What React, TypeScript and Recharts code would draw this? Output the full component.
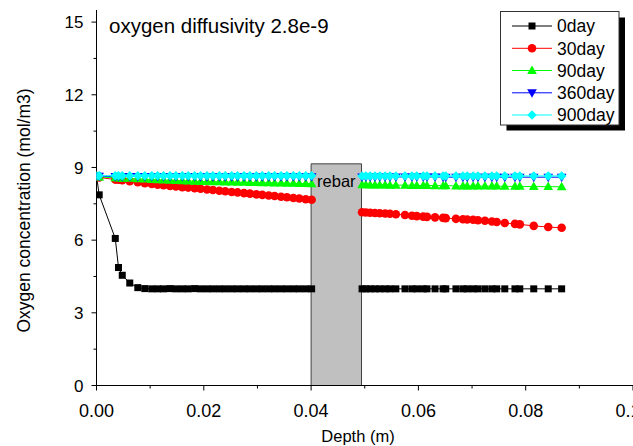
import React from 'react';
import { LineChart, Line, XAxis, YAxis, ReferenceArea } from 'recharts';

// Depth (m) nodes left of the rebar and right of the rebar
const depthLeft = [0, 0.0005, 0.0035, 0.0041, 0.0048, 0.0062, 0.0077, 0.009, 0.0103, 0.0114, 0.0125, 0.0137, 0.0148, 0.016, 0.0171, 0.0183, 0.0194, 0.0206, 0.0217, 0.0229, 0.024, 0.0252, 0.0263, 0.0275, 0.0286, 0.0298, 0.0309, 0.0321, 0.0332, 0.0344, 0.0355, 0.0367, 0.0378, 0.039, 0.0401];
const depthGap = 0.0447;
const depthRight = [0.0495, 0.0502, 0.051, 0.0519, 0.0528, 0.0538, 0.0547, 0.0558, 0.0575, 0.0588, 0.0597, 0.0609, 0.0616, 0.0631, 0.0646, 0.0651, 0.067, 0.0683, 0.0691, 0.0702, 0.0711, 0.0724, 0.0737, 0.0746, 0.0761, 0.078, 0.0789, 0.0815, 0.0842, 0.0867];

const day0Left = [8.65, 7.87, 6.07, 4.87, 4.55, 4.23, 4.04, 4.0, 3.99, 3.99, 3.99, 4.0, 3.99, 3.99, 3.99, 4.0, 3.99, 3.99, 3.99, 3.99, 3.99, 3.99, 3.99, 3.99, 3.99, 3.99, 3.99, 3.99, 3.99, 3.99, 3.99, 3.99, 3.99, 3.99, 3.99];
const day0Right = [3.99, 3.99, 3.99, 3.99, 3.99, 3.99, 3.99, 3.99, 3.99, 3.99, 3.99, 3.99, 3.99, 3.99, 3.99, 3.99, 3.99, 3.99, 3.99, 3.99, 3.99, 3.99, 3.99, 3.99, 3.99, 3.99, 3.99, 3.99, 3.99, 3.99];

const day30Left = [8.65, 8.59, 8.5, 8.49, 8.47, 8.43, 8.39, 8.35, 8.32, 8.29, 8.27, 8.24, 8.22, 8.19, 8.17, 8.14, 8.12, 8.09, 8.07, 8.04, 8.02, 7.99, 7.97, 7.94, 7.92, 7.89, 7.87, 7.84, 7.82, 7.79, 7.77, 7.74, 7.72, 7.69, 7.67];
const day30Right = [7.15, 7.14, 7.13, 7.12, 7.11, 7.1, 7.09, 7.07, 7.04, 7.01, 6.99, 6.97, 6.96, 6.94, 6.92, 6.91, 6.88, 6.86, 6.85, 6.84, 6.82, 6.8, 6.77, 6.75, 6.71, 6.67, 6.65, 6.59, 6.54, 6.51];

const day90Left = [8.65, 8.6, 8.58, 8.57, 8.56, 8.55, 8.53, 8.52, 8.5, 8.49, 8.48, 8.47, 8.46, 8.45, 8.44, 8.43, 8.42, 8.42, 8.41, 8.41, 8.4, 8.4, 8.39, 8.39, 8.38, 8.38, 8.37, 8.37, 8.36, 8.36, 8.35, 8.35, 8.34, 8.34, 8.33];
const day90Right = [8.29, 8.29, 8.28, 8.28, 8.28, 8.28, 8.27, 8.27, 8.27, 8.26, 8.26, 8.26, 8.26, 8.25, 8.25, 8.25, 8.24, 8.24, 8.24, 8.24, 8.23, 8.23, 8.23, 8.23, 8.22, 8.22, 8.22, 8.21, 8.21, 8.2];

const day360Left = [8.65, 8.64, 8.63, 8.63, 8.63, 8.63, 8.63, 8.63, 8.63, 8.63, 8.63, 8.63, 8.63, 8.63, 8.63, 8.63, 8.62, 8.62, 8.62, 8.62, 8.62, 8.62, 8.62, 8.62, 8.62, 8.62, 8.62, 8.62, 8.62, 8.62, 8.62, 8.62, 8.62, 8.62, 8.62];
const day360Right = [8.61, 8.61, 8.61, 8.61, 8.61, 8.61, 8.61, 8.61, 8.61, 8.61, 8.61, 8.61, 8.61, 8.61, 8.6, 8.6, 8.6, 8.6, 8.6, 8.6, 8.6, 8.6, 8.6, 8.6, 8.6, 8.6, 8.6, 8.6, 8.6, 8.6];

const day900Left = [8.66, 8.66, 8.66, 8.66, 8.66, 8.66, 8.66, 8.66, 8.66, 8.66, 8.66, 8.66, 8.66, 8.66, 8.66, 8.66, 8.66, 8.66, 8.66, 8.66, 8.66, 8.66, 8.66, 8.66, 8.66, 8.66, 8.66, 8.66, 8.66, 8.66, 8.66, 8.66, 8.66, 8.66, 8.66];
const day900Right = [8.65, 8.65, 8.65, 8.65, 8.65, 8.65, 8.65, 8.65, 8.65, 8.65, 8.65, 8.65, 8.65, 8.65, 8.65, 8.65, 8.65, 8.65, 8.65, 8.65, 8.65, 8.65, 8.65, 8.65, 8.65, 8.65, 8.65, 8.65, 8.65, 8.65];

const seriesKeys = ['day0', 'day30', 'day90', 'day360', 'day900'];
const seriesNames = ['0day', '30day', '90day', '360day', '900day'];
const seriesColors = ['#000000', '#ff0000', '#00ff00', '#0000ff', '#00ffff'];
const seriesShapes = ['square', 'circle', 'triUp', 'triDown', 'diamond'];

const xTicks = [0, 0.01, 0.02, 0.03, 0.04, 0.05, 0.06, 0.07, 0.08, 0.09, 0.1];
const yTicks = [0, 1.5, 3, 4.5, 6, 7.5, 9, 10.5, 12, 13.5, 15];
const xDomain = [0, 0.1];
const yDomain = [0, 15.5];
const rebarX = [0.04, 0.0494];
const rebarY = [0, 9.15];

const leftSeries = [day0Left, day30Left, day90Left, day360Left, day900Left];
const rightSeries = [day0Right, day30Right, day90Right, day360Right, day900Right];

const data: any[] = [];
depthLeft.forEach((d, i) => {
  const row: any = { depth: d };
  seriesKeys.forEach((k, s) => (row[k] = leftSeries[s][i]));
  data.push(row);
});
{
  const row: any = { depth: depthGap };
  seriesKeys.forEach((k) => (row[k] = null));
  data.push(row);
}
depthRight.forEach((d, i) => {
  const row: any = { depth: d };
  seriesKeys.forEach((k, s) => (row[k] = rightSeries[s][i]));
  data.push(row);
});

const FONT = '"Liberation Sans", Arial, sans-serif';

function markerShape(shape: string, color: string, cx: number, cy: number, key?: any) {
  switch (shape) {
    case 'square':
      return <rect key={key} x={cx - 3.5} y={cy - 3.5} width={7} height={7} fill={color} />;
    case 'circle':
      return <circle key={key} cx={cx} cy={cy} r={4.3} fill={color} />;
    case 'triUp':
      return <polygon key={key} points={`${cx},${cy - 5} ${cx + 4.8},${cy + 3.5} ${cx - 4.8},${cy + 3.5}`} fill={color} />;
    case 'triDown':
      return <polygon key={key} points={`${cx},${cy + 5} ${cx + 4.8},${cy - 3.5} ${cx - 4.8},${cy - 3.5}`} fill={color} />;
    default:
      return <polygon key={key} points={`${cx},${cy - 4.8} ${cx + 4.8},${cy} ${cx},${cy + 4.8} ${cx - 4.8},${cy}`} fill={color} />;
  }
}

const makeDot = (shape: string, color: string) => (p: any) => {
  const { cx, cy, index, value } = p;
  if (cx == null || cy == null || value == null || Number.isNaN(cy)) return <g key={`e${index}`} />;
  return markerShape(shape, color, cx, cy, `d${index}`);
};

const XTick = (p: any) => {
  const { x, y, payload } = p;
  const v = payload.value;
  const major = Math.abs(v / 0.02 - Math.round(v / 0.02)) < 1e-6;
  return (
    <g>
      <line x1={x} x2={x} y1={y} y2={y + (major ? 5 : 3)} stroke="#000" strokeWidth={1} />
      {major && (
        <text x={x} y={y + 31} textAnchor="middle" fontSize={18} fill="#000" fontFamily={FONT}>
          {v.toFixed(2)}
        </text>
      )}
    </g>
  );
};

const YTick = (p: any) => {
  const { x, y, payload } = p;
  const v = payload.value;
  const major = Math.abs(v / 3 - Math.round(v / 3)) < 1e-6;
  return (
    <g>
      <line x1={x} x2={x - (major ? 5 : 3)} y1={y} y2={y} stroke="#000" strokeWidth={1} />
      {major && (
        <text x={x - 13} y={y} dy="0.36em" textAnchor="end" fontSize={17} fill="#000" fontFamily={FONT}>
          {v}
        </text>
      )}
    </g>
  );
};

export default function App() {
  const rowY = [26, 48.3, 70.5, 92.8, 115];
  return (
    <div style={{ position: 'absolute', left: 0, top: 0, width: 633, height: 446, overflow: 'hidden', background: '#fff', fontFamily: FONT }}>
      <LineChart width={650} height={446} data={data} margin={{ top: 10, right: 17, bottom: 20.5, left: 0.5 }}>
        <XAxis
          type="number"
          dataKey="depth"
          domain={xDomain}
          ticks={xTicks}
          interval={0}
          allowDataOverflow
          tickSize={0}
          tickMargin={0}
          height={40}
          axisLine={{ stroke: '#000', strokeWidth: 1 }}
          tickLine={false}
          tick={<XTick />}
        />
        <YAxis
          type="number"
          domain={yDomain}
          ticks={yTicks}
          interval={0}
          allowDataOverflow
          tickSize={0}
          tickMargin={0}
          width={96}
          axisLine={{ stroke: '#000', strokeWidth: 1 }}
          tickLine={false}
          tick={<YTick />}
        />
        {seriesKeys.map((k, s) => (
          <Line
            key={k}
            dataKey={k}
            name={seriesNames[s]}
            stroke={seriesColors[s]}
            strokeWidth={1}
            dot={makeDot(seriesShapes[s], seriesColors[s])}
            activeDot={false}
            connectNulls={false}
            isAnimationActive={false}
          />
        ))}
        <ReferenceArea
          x1={rebarX[0]}
          x2={rebarX[1]}
          y1={rebarY[0]}
          y2={rebarY[1]}
          fill="#c0c0c0"
          fillOpacity={1}
          stroke="#404040"
          strokeWidth={1}
          zIndex={450}
          label={{ value: 'rebar', position: 'insideTop', offset: 11, fontSize: 16.5, fill: '#000' }}
        />
      </LineChart>
      <svg width={633} height={446} style={{ position: 'absolute', left: 0, top: 0, pointerEvents: 'none' }} fontFamily={FONT}>
        <text x={109} y={33} fontSize={20.5} fill="#000">oxygen diffusivity 2.8e-9</text>
        <text
          x={23.5}
          y={210.5}
          fontSize={17.5}
          fill="#000"
          textAnchor="middle"
          dominantBaseline="central"
          transform="rotate(-90 23.5 210.5)"
        >
          Oxygen concentration (mol/m3)
        </text>
        <text x={358} y={442} fontSize={16.5} fill="#000" textAnchor="middle">Depth (m)</text>
        <rect x={506.5} y={17.5} width={118.5} height={113} fill="#000" />
        <rect x={500.5} y={11.5} width={118.5} height={113.5} fill="#fff" stroke="#333" strokeWidth={1} />
        {seriesNames.map((n, i) => (
          <g key={n}>
            <line x1={512} x2={552} y1={rowY[i]} y2={rowY[i]} stroke={seriesColors[i]} strokeWidth={1} />
            {markerShape(seriesShapes[i], seriesColors[i], 532, rowY[i])}
            <text x={557} y={rowY[i] + 6.3} fontSize={17.5} fill="#000">{n}</text>
          </g>
        ))}
      </svg>
    </div>
  );
}
